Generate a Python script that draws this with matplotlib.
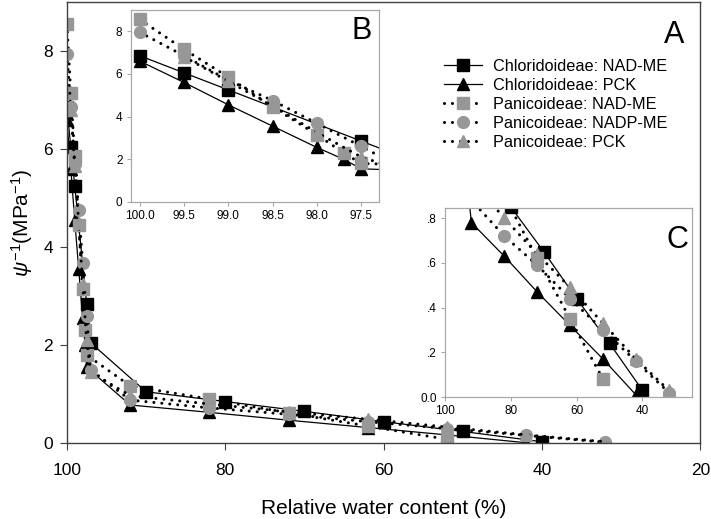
import matplotlib
matplotlib.use('Agg')
import matplotlib.pyplot as plt
from matplotlib.ticker import FuncFormatter

plt.rcParams['font.family'] = ['Liberation Sans', 'DejaVu Sans']
plt.rcParams['mathtext.fontset'] = 'custom'
plt.rcParams['mathtext.rm'] = 'Liberation Sans'
plt.rcParams['mathtext.it'] = 'Liberation Sans:italic'

# relative water content (%) and psi^-1 (MPa^-1)
chl_nadme_x = [100, 99.5, 99.0, 97.5, 97.0, 90, 80, 70, 60, 50, 40]
chl_nadme_y = [6.85, 6.05, 5.25, 2.85, 2.05, 1.05, 0.85, 0.65, 0.44, 0.24, 0.03]

chl_pck_x = [100, 99.5, 99.0, 98.5, 98.0, 97.7, 97.5, 92, 82, 72, 62, 52, 42]
chl_pck_y = [6.6, 5.6, 4.55, 3.55, 2.55, 2.0, 1.55, 0.78, 0.63, 0.47, 0.32, 0.17, 0.01]

pan_nadme_x = [100, 99.5, 99.0, 98.5, 98.0, 97.7, 97.5, 92, 82, 72, 62, 52]
pan_nadme_y = [8.55, 7.15, 5.85, 4.45, 3.15, 2.3, 1.8, 1.17, 0.9, 0.62, 0.35, 0.08]

pan_nadpme_x = [100, 99.5, 99.0, 98.5, 98.0, 97.5, 97.0, 92, 82, 72, 62, 52, 42, 32]
pan_nadpme_y = [7.95, 6.85, 5.7, 4.75, 3.68, 2.6, 1.5, 0.88, 0.72, 0.59, 0.44, 0.30, 0.16, 0.02]

pan_pck_x = [99.5, 99.0, 98.5, 98.0, 97.5, 97.0, 92, 82, 72, 62, 52, 42, 32]
pan_pck_y = [6.8, 5.65, 4.5, 3.25, 2.1, 1.45, 0.97, 0.80, 0.64, 0.49, 0.33, 0.17, 0.03]

labels = ['Chloridoideae: NAD-ME', 'Chloridoideae: PCK', 'Panicoideae: NAD-ME',
          'Panicoideae: NADP-ME', 'Panicoideae: PCK']

GRAY = '#979797'
dotted = dict(color='black', linewidth=2.2, linestyle=(0, (0.01, 2.6)),
              dash_capstyle='round')
solid = dict(color='black', linewidth=0.9)

series = [
    (chl_nadme_x, chl_nadme_y, solid, 's', 'black', 8),
    (chl_pck_x, chl_pck_y, solid, '^', 'black', 8.5),
    (pan_nadme_x, pan_nadme_y, dotted, 's', GRAY, 8),
    (pan_nadpme_x, pan_nadpme_y, dotted, 'o', GRAY, 8.5),
    (pan_pck_x, pan_pck_y, dotted, '^', GRAY, 8.5),
]


def draw(ax):
    handles = []
    for i, (x, y, ls, mk, col, ms) in enumerate(series):
        h, = ax.plot(x, y, marker=mk, markersize=ms, markerfacecolor=col,
                     markeredgecolor=col, zorder=2 + i * 0.1, **ls)
        handles.append(h)
    return handles


fig = plt.figure(figsize=(7.11, 5.19), dpi=100)

# main panel A
ax = fig.add_axes([0.094, 0.146, 0.891, 0.85])
handles = draw(ax)
ax.set_xlim(100, 20)
ax.set_ylim(0, 9)
ax.set_xticks([100, 80, 60, 40, 20])
ax.set_yticks([0, 2, 4, 6, 8])
for s in ax.spines.values():
    s.set_color('#404040')
    s.set_linewidth(1.0)
ax.tick_params(direction='out', length=5, color='#404040', labelsize=12.5, pad=5)
ax.tick_params(axis='x', pad=9)
ax.set_xlabel('Relative water content (%)', fontsize=15, labelpad=15)
ax.set_ylabel(r'$\mathit{\psi}^{-1}$(MPa$^{-1}$)', fontsize=15, labelpad=6)
ax.text(0.958, 0.925, 'A', transform=ax.transAxes, fontsize=22, ha='center', va='center')
ax.legend(handles, labels, loc='upper left', bbox_to_anchor=(0.596, 0.872),
          frameon=False, fontsize=11.7, handlelength=2.3, handletextpad=0.7,
          labelspacing=0.25, borderpad=0, borderaxespad=0)

# inset B
axb = fig.add_axes([0.184, 0.611, 0.349, 0.370])
draw(axb)
axb.set_xlim(100.1, 97.3)
axb.set_ylim(0, 9)
axb.set_xticks([100.0, 99.5, 99.0, 98.5, 98.0, 97.5])
axb.xaxis.set_major_formatter(FuncFormatter(lambda v, p: f'{v:.1f}'))
axb.set_yticks([0, 2, 4, 6, 8])
for s in axb.spines.values():
    s.set_color('#a8a8a8')
    s.set_linewidth(0.9)
axb.tick_params(direction='out', length=3, color='#a8a8a8', labelsize=8.5, pad=3)
axb.text(0.93, 0.89, 'B', transform=axb.transAxes, fontsize=22, ha='center', va='center')

# inset C
axc = fig.add_axes([0.626, 0.235, 0.347, 0.364])
draw(axc)
axc.set_xlim(100, 25)
axc.set_ylim(0, 0.845)
axc.set_xticks([100, 80, 60, 40])
axc.set_yticks([0, 0.2, 0.4, 0.6, 0.8])
axc.yaxis.set_major_formatter(
    FuncFormatter(lambda v, p: '0.0' if abs(v) < 1e-9 else f'{v:.1f}'.lstrip('0')))
for s in axc.spines.values():
    s.set_color('#a8a8a8')
    s.set_linewidth(0.9)
axc.tick_params(direction='out', length=3, color='#a8a8a8', labelsize=8.5, pad=3)
axc.text(0.94, 0.83, 'C', transform=axc.transAxes, fontsize=22, ha='center', va='center')

fig.savefig('out.png', dpi=100)
